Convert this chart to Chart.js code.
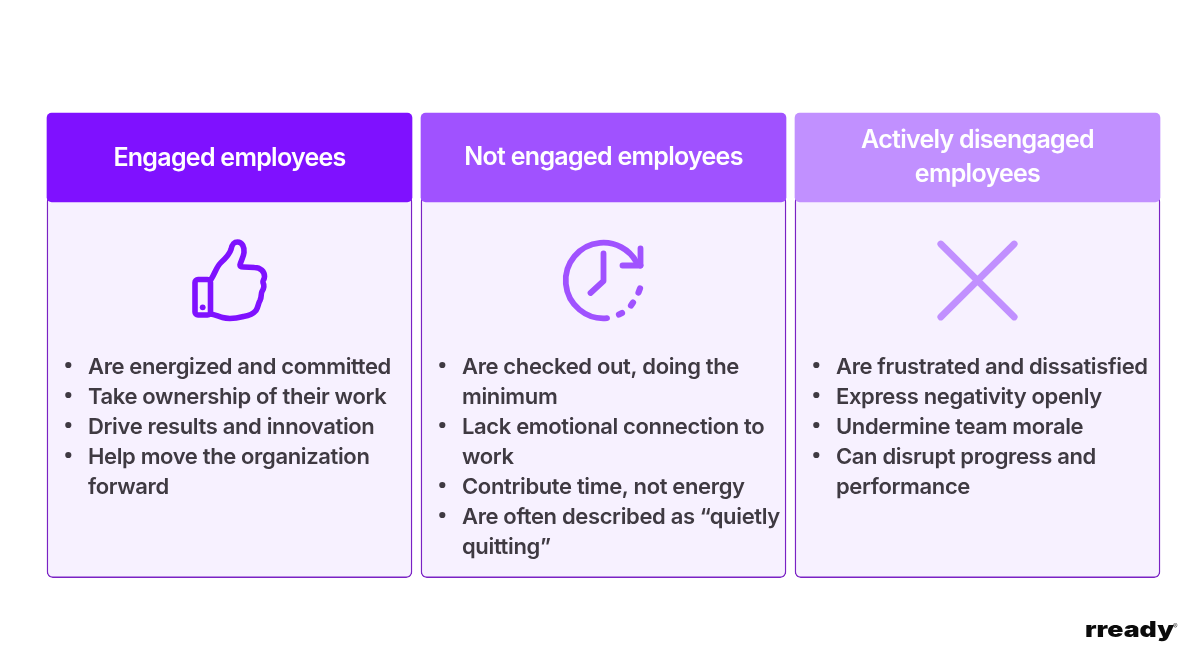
<!DOCTYPE html>
<html>
<head>
<meta charset="utf-8">
<style>
  html, body { margin: 0; padding: 0; background: #fff; }
  canvas { display: block; }
</style>
<script src="https://cdn.jsdelivr.net/npm/chart.js@4"></script>
</head>
<body>
<canvas id="cards" width="1200" height="661"></canvas>
<script>
const categories = ['Engaged employees', 'Not engaged employees', 'Actively disengaged employees']
const headerTitles = [['Engaged employees'], ['Not engaged employees'], ['Actively disengaged', 'employees']]
const headerSpans = [[113, 202], [113, 202], [113, 202]]
const bodySpans = [[196, 577.6], [196, 577.6], [196, 577.6]]
const headerColors = ['#7F11FF', '#A052FF', '#C190FF']
const bullets = [
  [['Are energized and committed'], ['Take ownership of their work'], ['Drive results and innovation'], ['Help move the organization', 'forward']],
  [['Are checked out, doing the', 'minimum'], ['Lack emotional connection to', 'work'], ['Contribute time, not energy'], ['Are often described as \u201Cquietly', 'quitting\u201D']],
  [['Are frustrated and dissatisfied'], ['Express negativity openly'], ['Undermine team morale'], ['Can disrupt progress and', 'performance']]
]
const brand = 'rready'

const textColor = '#3F3A42'
const bodyFont = '600 22px Inter'
const headFont = '600 25px Inter'

// icons are local to the middle of each card
function thumbIcon(c) {
  c.lineWidth = 5.6
  c.beginPath()
  c.roundRect(-34.5, -1, 15.5, 35.5, 3)
  c.stroke()
  c.beginPath()
  c.moveTo(-18.5, -1)
  c.bezierCurveTo(-14, -8, -13, -14, -8.5, -18)
  c.bezierCurveTo(-3, -23, 0, -26, 1.5, -31)
  c.bezierCurveTo(2.5, -36, 4, -38.5, 8, -38.5)
  c.bezierCurveTo(13, -38.5, 15, -33, 14.5, -28)
  c.bezierCurveTo(14, -23, 11, -19, 10.5, -15.5)
  c.bezierCurveTo(10.5, -14, 12, -13.5, 14, -13.5)
  c.lineTo(25, -13)
  c.bezierCurveTo(31, -13, 35, -9, 35, -4)
  c.bezierCurveTo(35, -1, 33, 0, 33.5, 2)
  c.bezierCurveTo(35, 5, 34.5, 8, 32.5, 11)
  c.bezierCurveTo(31, 14, 32.5, 16, 30.5, 20)
  c.bezierCurveTo(28.5, 23, 29, 26, 26.5, 30)
  c.bezierCurveTo(24, 33, 20, 35, 14, 36)
  c.bezierCurveTo(6, 38, 0, 39, -7, 37)
  c.bezierCurveTo(-11, 36, -15, 34, -19, 33.5)
  c.stroke()
  c.beginPath()
  c.arc(-26.8, 26.8, 2.9, 0, Math.PI * 2)
  c.fill()
}

function clockIcon(c) {
  c.lineWidth = 5.8
  c.beginPath()
  c.arc(0, 0, 37.8, Math.PI * 0.47, Math.PI * 1.84)
  c.lineTo(37, -15)
  c.stroke()
  c.beginPath()
  c.moveTo(37, -32)
  c.lineTo(37, -15)
  c.lineTo(19, -15)
  c.stroke()
  c.beginPath()
  c.moveTo(0, -27)
  c.lineTo(0, 0.5)
  c.lineTo(-13, 12.5)
  c.stroke()
  c.lineWidth = 6.2
  for (const s of [[36.5, 8, 35, 12], [29.5, 22, 27.5, 25], [18.5, 32.5, 15.5, 34]]) {
    c.beginPath()
    c.moveTo(s[0], s[1])
    c.lineTo(s[2], s[3])
    c.stroke()
  }
}

function crossIcon(c) {
  c.lineWidth = 6.8
  c.beginPath()
  c.moveTo(-36.7, -36.5)
  c.lineTo(36.7, 36.5)
  c.moveTo(36.7, -36.5)
  c.lineTo(-36.7, 36.5)
  c.stroke()
}

const icons = [thumbIcon, clockIcon, crossIcon]

const cardText = {
  id: 'cardText',
  afterDatasetsDraw(chart) {
    const c = chart.ctx
    const x = chart.scales.x
    const y = chart.scales.y
    const cardHalf = 182.5

    categories.forEach((name, i) => {
      const mid = x.getPixelForValue(i)

      c.save()
      c.fillStyle = '#fff'
      c.font = headFont
      c.letterSpacing = '-0.72px'
      c.textAlign = 'center'
      c.textBaseline = 'alphabetic'
      const lines = headerTitles[i]
      const base = lines.length > 1 ? [147.5, 181.5] : [166]
      lines.forEach((t, n) => c.fillText(t, mid, y.getPixelForValue(base[n] - (i == 1 ? 1 : 0))))
      c.restore()

      c.save()
      c.translate(mid, y.getPixelForValue(280.5))
      c.strokeStyle = headerColors[i]
      c.fillStyle = headerColors[i]
      c.lineCap = 'round'
      c.lineJoin = 'round'
      icons[i](c)
      c.restore()

      c.save()
      c.fillStyle = textColor
      c.font = bodyFont
      c.letterSpacing = '-0.36px'
      c.textAlign = 'left'
      let row = 0
      bullets[i].forEach(item => {
        c.beginPath()
        c.arc(mid - cardHalf + 21.3, y.getPixelForValue(365 + row * 30), 3.1, 0, Math.PI * 2)
        c.fill()
        item.forEach(t => {
          c.fillText(t, mid - cardHalf + 41, y.getPixelForValue(374 + row * 30))
          row++
        })
      })
      c.restore()
    })

    // logo is a wide heavy face, stretch the closest one we have
    c.save()
    c.fillStyle = '#0B0B0B'
    c.font = '900 21.5px Inter'
    c.textAlign = 'left'
    c.translate(1085, y.getPixelForValue(636.5))
    c.scale(1.24, 1)
    c.fillText(brand, 0, 0)
    c.restore()

    c.save()
    c.font = '500 7px Inter'
    c.fillStyle = '#444'
    c.fillText('\u00AE', 1173, y.getPixelForValue(629))
    c.restore()
  }
}

new Chart(document.getElementById('cards').getContext('2d'), {
  type: 'bar',
  data: {
    labels: categories,
    datasets: [{
      data: headerSpans,
      backgroundColor: headerColors,
      borderRadius: 5,
      borderSkipped: false,
      barThickness: 365,
      grouped: false
    }, {
      data: bodySpans,
      backgroundColor: '#F7F1FF',
      borderColor: '#7A22C4',
      borderWidth: 1.4,
      borderRadius: 6,
      borderSkipped: false,
      barThickness: 365,
      grouped: false
    }]
  },
  options: {
    responsive: false,
    animation: false,
    layout: { padding: { left: 42.5, right: 35.5, top: 0, bottom: 0 } },
    plugins: { legend: { display: false }, tooltip: { enabled: false } },
    scales: {
      x: { display: false, grid: { display: false } },
      y: { display: false, reverse: true, min: 0, max: 661, grid: { display: false } }
    }
  },
  plugins: [cardText]
})
</script>
</body>
</html>
